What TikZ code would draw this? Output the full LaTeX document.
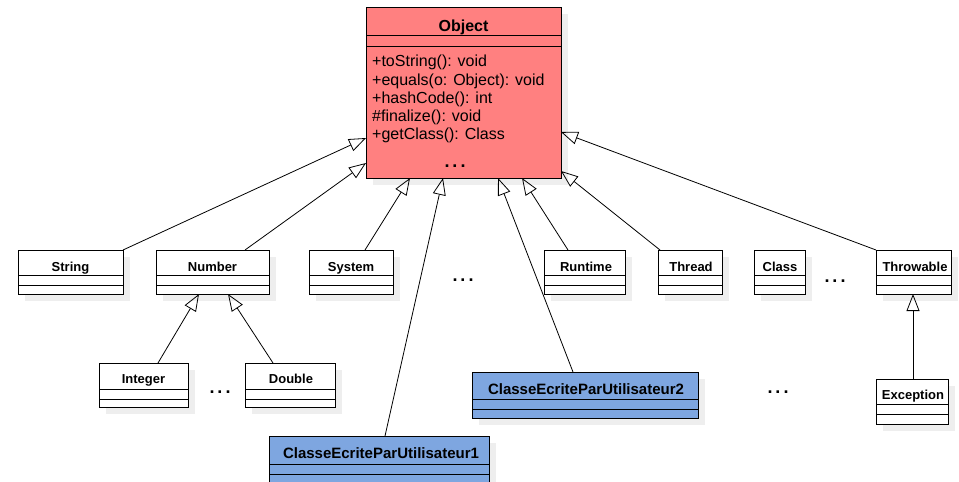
\documentclass[tikz,border=0pt]{standalone}
\usepackage{fontspec}
\setmainfont{Liberation Sans}
\usetikzlibrary{arrows.meta}
\definecolor{objred}{HTML}{FF8080}
\definecolor{userblue}{HTML}{7EA6E0}
\definecolor{shadowc}{HTML}{EEEEEE}
\newcommand\umlcls[8]{% name, left, top, right, bottom, sep1, sep2, fill
  \fill[shadowc] (#2+7,#3+7) rectangle (#4+7,#5+7);
  \node[clsbox, fill=#8, minimum width={#4-#2}, minimum height={#5-#3}] (#1) at (#2,#3) {};
  \draw[clsline] (#2,#6) -- (#4,#6);
  \draw[clsline] (#2,#7) -- (#4,#7);
}
\newcommand\mydots{.\kern3pt.\kern3pt.}
\begin{document}
\begin{tikzpicture}[x=1pt,y=-1pt,
  clsbox/.style={draw, line width=1pt, anchor=north west, inner sep=0pt, outer sep=0pt},
  clsline/.style={line width=1pt},
  ttl/.style={anchor=base, inner sep=0pt, font=\fontsize{13}{15}\selectfont\bfseries},
  bigttl/.style={anchor=base, inner sep=0pt, font=\fontsize{15}{18}\selectfont\bfseries},
  meth/.style={anchor=base west, inner sep=0pt, font=\fontsize{16}{18}\selectfont},
  dots/.style={anchor=base, inner sep=0pt, font=\fontsize{18}{20}\selectfont\bfseries},
  inh/.style={-{Triangle[open,length=17pt,width=13pt]}, line width=0.8pt}]
\useasboundingbox (0,0) rectangle (959,482);
\begin{scope}
\clip (0,0) rectangle (959,482);
% classes
\umlcls{object}{366}{7}{561}{178}{35}{46}{objred}
\umlcls{string}{18}{250}{123}{294}{275}{285}{white}
\umlcls{number}{156}{250}{269}{294}{275}{285}{white}
\umlcls{system}{309}{250}{393}{294}{275}{285}{white}
\umlcls{runtime}{544}{250}{625}{294}{275}{285}{white}
\umlcls{thread}{658}{250}{722}{294}{275}{285}{white}
\umlcls{class}{754}{250}{805}{294}{275}{285}{white}
\umlcls{throwable}{876}{250}{951}{294}{275}{285}{white}
\umlcls{integer}{99}{363}{188}{407}{389}{399}{white}
\umlcls{double}{245}{363}{335}{407}{389}{399}{white}
\umlcls{user2}{472}{372}{698}{418}{399}{409}{userblue}
\umlcls{user1}{269}{436}{489}{490}{464}{474}{userblue}
\umlcls{exception}{876}{379}{948}{424}{404}{414}{white}
\end{scope}
% titles
\node[anchor=base, inner sep=0pt, font=\fontsize{16}{18}\selectfont\bfseries] (object-t) at (463.5,31) {Object};
\node[meth] (m1) at (372,66.7) {+toString(): void};
\node[meth] (m2) at (372,85) {+equals(o: Object): void};
\node[meth] (m3) at (372,103.3) {+hashCode(): int};
\node[meth] (m4) at (372,121) {\#finalize(): void};
\node[meth] (m5) at (372,139.3) {+getClass(): Class};
\node[dots] (m6) at (455,167) {\mydots};
\node[ttl] (string-t) at (70.5,271) {String};
\node[ttl] (number-t) at (212.5,271) {Number};
\node[ttl] (system-t) at (351,271) {System};
\node[ttl] (runtime-t) at (586,271) {Runtime};
\node[ttl] (thread-t) at (691,271) {Thread};
\node[ttl] (class-t) at (780,271) {Class};
\node[ttl] (throwable-t) at (915,271) {Throwable};
\node[ttl] (integer-t) at (143.5,383.5) {Integer};
\node[ttl] (double-t) at (291,383.5) {Double};
\node[ttl] (exception-t) at (913,399.5) {Exception};
\node[bigttl] (user2-t) at (586,394) {ClasseEcriteParUtilisateur2};
\node[bigttl] (user1-t) at (381,458) {ClasseEcriteParUtilisateur1};
% ellipses between classes
\node[dots] (d1) at (463,281.5) {\mydots};
\node[dots] (d2) at (835,282.5) {\mydots};
\node[dots] (d3) at (220,393.5) {\mydots};
\node[dots] (d4) at (778,393.5) {\mydots};
% connector end points on the class borders
\coordinate (o-string) at (366,138);
\coordinate (o-number) at (366,163);
\coordinate (o-system) at (410,178);
\coordinate (o-user1) at (443,178);
\coordinate (o-user2) at (498,178);
\coordinate (o-runtime) at (522,178);
\coordinate (o-thread) at (561,171);
\coordinate (o-throwable) at (561,132);
\coordinate (s-number) at (245,250);
\coordinate (s-system) at (365,250);
\coordinate (s-runtime) at (568,250);
\coordinate (s-thread) at (660,250);
\coordinate (s-user1) at (385,436);
\coordinate (s-user2) at (573,372);
\coordinate (n-integer) at (199,294);
\coordinate (n-double) at (228,294);
\coordinate (s-integer) at (158,363);
\coordinate (s-double) at (273,363);
\coordinate (t-exception) at (913,294);
\coordinate (s-exception) at (913,379);
% inheritance arrows
\draw[inh] (string.north east) -- (o-string);
\draw[inh] (s-number) -- (o-number);
\draw[inh] (s-system) -- (o-system);
\draw[inh] (s-user1) -- (o-user1);
\draw[inh] (s-user2) -- (o-user2);
\draw[inh] (s-runtime) -- (o-runtime);
\draw[inh] (s-thread) -- (o-thread);
\draw[inh] (throwable.north west) -- (o-throwable);
\draw[inh] (s-integer) -- (n-integer);
\draw[inh] (s-double) -- (n-double);
\draw[inh] (s-exception) -- (t-exception);
\end{tikzpicture}
\end{document}
